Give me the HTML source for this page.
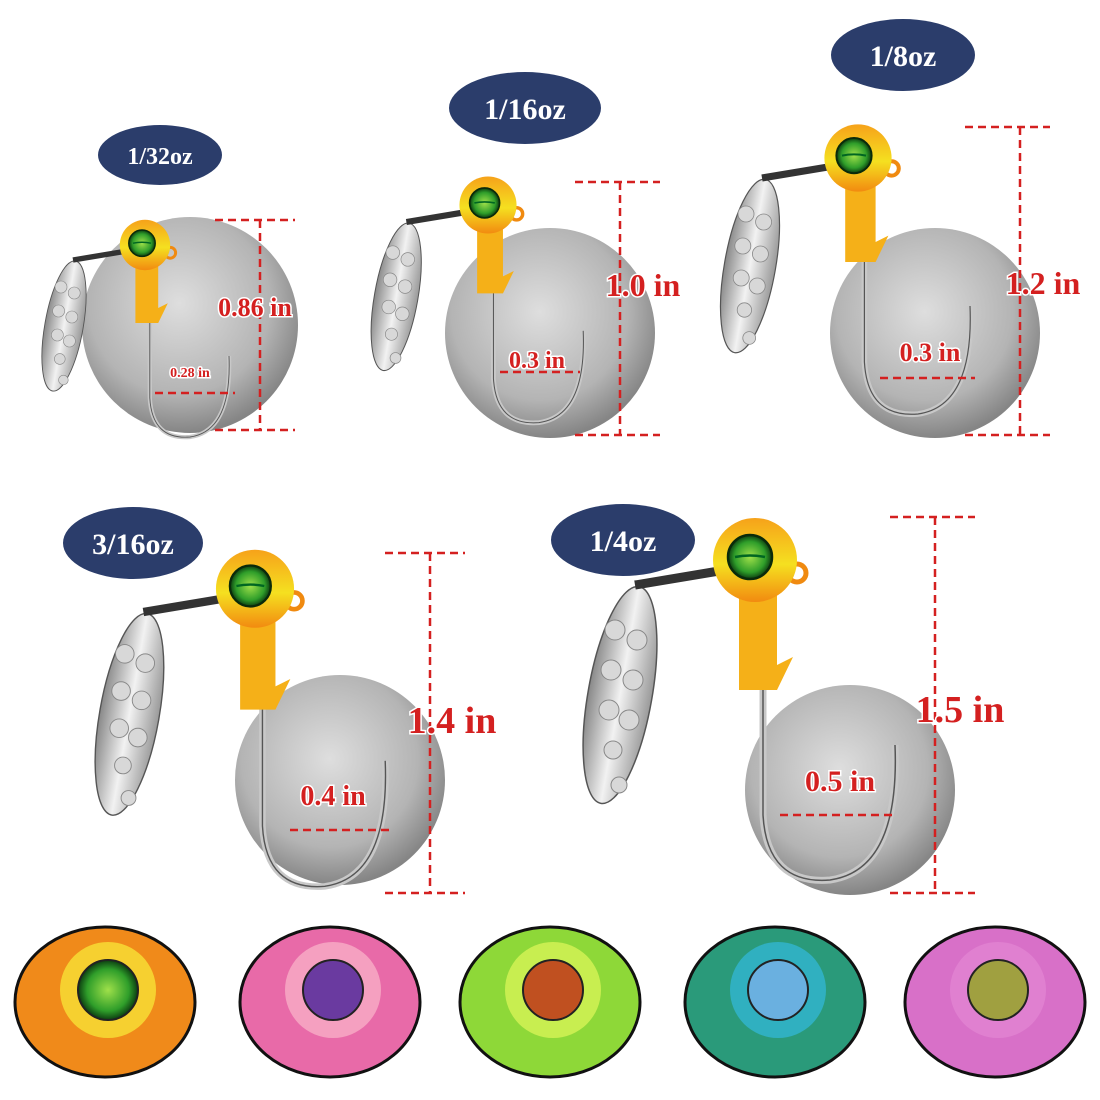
<!DOCTYPE html>
<html><head><meta charset="utf-8"><style>
html,body{margin:0;padding:0;background:#fff;width:1100px;height:1100px;overflow:hidden}
text{font-family:"Liberation Serif",serif;font-weight:bold}
</style></head><body>
<svg width="1100" height="1100" viewBox="0 0 1100 1100" xmlns="http://www.w3.org/2000/svg">
<defs>
<radialGradient id="coin" cx="45%" cy="40%" r="60%"><stop offset="0" stop-color="#dedede"/><stop offset="0.7" stop-color="#b4b4b4"/><stop offset="1" stop-color="#858585"/></radialGradient>
<linearGradient id="blade" x1="0" x2="1"><stop offset="0" stop-color="#888"/><stop offset="0.5" stop-color="#f2f2f2"/><stop offset="1" stop-color="#999"/></linearGradient>
<linearGradient id="head" x1="0" y1="0" x2="0" y2="1"><stop offset="0" stop-color="#f6a21a"/><stop offset="0.55" stop-color="#f5e020"/><stop offset="1" stop-color="#f28a10"/></linearGradient>
<radialGradient id="eye"><stop offset="0" stop-color="#9fe04a"/><stop offset="0.7" stop-color="#2f9e2a"/><stop offset="1" stop-color="#0c3d10"/></radialGradient>
<g id="jig">
 <ellipse cx="-135" cy="110" rx="32" ry="110" fill="url(#blade)" stroke="#555" stroke-width="1.5" transform="rotate(10 -135 110)"/>
 <g fill="#d8d8d8" stroke="#888" stroke-width="1"><circle cx="-140" cy="45" r="10"/><circle cx="-118" cy="55" r="10"/><circle cx="-144" cy="85" r="10"/><circle cx="-122" cy="95" r="10"/><circle cx="-146" cy="125" r="10"/><circle cx="-126" cy="135" r="10"/><circle cx="-142" cy="165" r="9"/><circle cx="-136" cy="200" r="8"/></g>
 <path d="M-120 0 L-30 -15" stroke="#333" stroke-width="9"/>
 <path d="M8 40 L8 230 Q12 300 75 295 Q145 285 140 160" fill="none" stroke="#c8c8c8" stroke-width="7"/>
 <path d="M8 40 L8 230 Q12 300 75 295 Q145 285 140 160" fill="none" stroke="#555" stroke-width="1.5"/>
 <circle cx="42" cy="-12" r="9" fill="none" stroke="#f08a10" stroke-width="5"/>
 <path d="M-16 0 L22 0 L22 80 L38 72 L22 105 L-16 105 Z" fill="#f5b018"/>
 <circle cx="0" cy="-25" r="42" fill="url(#head)"/>
 <circle cx="-5" cy="-28" r="22" fill="url(#eye)" stroke="#0a2a0a" stroke-width="2.5"/>
 <path d="M-20 -28 Q-5 -31 10 -28" stroke="#062" stroke-width="2.5" fill="none"/>
</g>
</defs>
<rect width="1100" height="1100" fill="#fff"/>

<circle cx="190" cy="325" r="108" fill="url(#coin)"/>
<circle cx="550" cy="333" r="105" fill="url(#coin)"/>
<circle cx="935" cy="333" r="105" fill="url(#coin)"/>
<circle cx="340" cy="780" r="105" fill="url(#coin)"/>
<circle cx="850" cy="790" r="105" fill="url(#coin)"/>

<g transform="translate(145,260) scale(0.6)"><use href="#jig"/></g>
<g transform="translate(488,222) scale(0.68)"><use href="#jig"/></g>
<g transform="translate(858,178) scale(0.8)"><use href="#jig"/></g>
<g transform="translate(255,612) scale(0.93)"><use href="#jig"/></g>
<g transform="translate(755,585) scale(1.0)"><use href="#jig"/></g>

<g fill="#2b3d6b">
<ellipse cx="160" cy="155" rx="62" ry="30"/>
<ellipse cx="525" cy="108" rx="76" ry="36"/>
<ellipse cx="903" cy="55" rx="72" ry="36"/>
<ellipse cx="133" cy="543" rx="70" ry="36"/>
<ellipse cx="623" cy="540" rx="72" ry="36"/>
</g>
<g fill="#fff" text-anchor="middle">
<text x="160" y="164" font-size="24">1/32oz</text>
<text x="525" y="119" font-size="30">1/16oz</text>
<text x="903" y="66" font-size="30">1/8oz</text>
<text x="133" y="554" font-size="30">3/16oz</text>
<text x="623" y="551" font-size="30">1/4oz</text>
</g>

<g stroke="#d42020" stroke-width="2.5" stroke-dasharray="8,5" fill="none">
<path d="M215 220 H295 M215 430 H295 M260 220 V430 M155 393 H235"/>
<path d="M575 182 H660 M575 435 H660 M620 182 V435 M500 372 H580"/>
<path d="M965 127 H1050 M965 435 H1050 M1020 127 V435 M880 378 H975"/>
<path d="M385 553 H465 M385 893 H465 M430 553 V893 M290 830 H390"/>
<path d="M890 517 H975 M890 893 H975 M935 517 V893 M780 815 H895"/>
</g>
<g fill="#d42020" text-anchor="middle" stroke="#fff" stroke-width="3" paint-order="stroke">
<text x="255" y="316" font-size="26">0.86 in</text>
<text x="190" y="377" font-size="14">0.28 in</text>
<text x="643" y="296" font-size="32">1.0 in</text>
<text x="537" y="368" font-size="24">0.3 in</text>
<text x="1043" y="294" font-size="32">1.2 in</text>
<text x="930" y="361" font-size="26">0.3 in</text>
<text x="452" y="733" font-size="38">1.4 in</text>
<text x="333" y="805" font-size="28">0.4 in</text>
<text x="960" y="722" font-size="38">1.5 in</text>
<text x="840" y="791" font-size="30">0.5 in</text>
</g>

<g stroke="#111" stroke-width="3">
<ellipse cx="105" cy="1002" rx="90" ry="75" fill="#f08a1a"/>
<ellipse cx="330" cy="1002" rx="90" ry="75" fill="#e86aa8"/>
<ellipse cx="550" cy="1002" rx="90" ry="75" fill="#8ed838"/>
<ellipse cx="775" cy="1002" rx="90" ry="75" fill="#2a9a7a"/>
<ellipse cx="995" cy="1002" rx="90" ry="75" fill="#d870c8"/>
</g>
<g>
<circle cx="108" cy="990" r="48" fill="#f6d030"/><circle cx="108" cy="990" r="30" fill="url(#eye)" stroke="#222" stroke-width="2"/>
<circle cx="333" cy="990" r="48" fill="#f5a0c0"/><circle cx="333" cy="990" r="30" fill="#6a3aa0" stroke="#222" stroke-width="2"/>
<circle cx="553" cy="990" r="48" fill="#c8ee50"/><circle cx="553" cy="990" r="30" fill="#c05020" stroke="#222" stroke-width="2"/>
<circle cx="778" cy="990" r="48" fill="#30b0c0"/><circle cx="778" cy="990" r="30" fill="#6ab0e0" stroke="#222" stroke-width="2"/>
<circle cx="998" cy="990" r="48" fill="#e080d0"/><circle cx="998" cy="990" r="30" fill="#a0a040" stroke="#222" stroke-width="2"/>
</g>
</svg>
</body></html>
